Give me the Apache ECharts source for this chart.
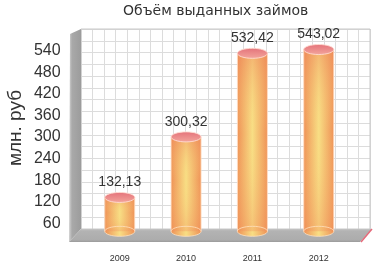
<!DOCTYPE html>
<html><head><meta charset="utf-8">
<script src="https://cdn.jsdelivr.net/npm/echarts@6/dist/echarts.min.js"></script>
<style>html,body{margin:0;padding:0;background:#fff}#c{width:380px;height:273px}</style>
</head><body><div id="c"></div>
<script>
const titleText = 'Объём выданных займов';
const axisName = 'млн. руб';
const categories = ['2009', '2010', '2011', '2012'];
const values = [132.13, 300.32, 532.42, 543.02];
const yTicks = [60, 120, 180, 240, 300, 360, 420, 480, 540];
const BASE = 38; // floor level in axis units

const chart = echarts.init(document.getElementById('c'), null, {renderer: 'canvas'});
const fmt = v => v.toFixed(2).replace('.', ',');

const bodyGrad = new echarts.graphic.LinearGradient(0, 0, 1, 0, [
  {offset: 0, color: '#ef9257'},
  {offset: 0.5, color: '#f8de84'},
  {offset: 1, color: '#ef9257'}
]);
const shadeGrad = new echarts.graphic.LinearGradient(0, 0, 0, 1, [
  {offset: 0, color: 'rgba(238,130,90,0.45)'},
  {offset: 0.45, color: 'rgba(248,220,130,0)'},
  {offset: 1, color: 'rgba(240,140,90,0.35)'}
]);
const topGrad = new echarts.graphic.LinearGradient(0, 0, 0, 1, [
  {offset: 0, color: '#e4727a'},
  {offset: 1, color: '#f3a69c'}
]);

chart.setOption({
  animation: false,
  title: {
    text: titleText, left: 123, top: 4, padding: 0,
    textStyle: {fontFamily: 'DejaVu Sans', fontSize: 14, fontWeight: 'normal', color: '#333'}
  },
  grid: [
    {left: 86.6, right: 28.1, top: 29, bottom: 28},
    {left: 81, right: 10, top: 29, bottom: 44, show: true, backgroundColor: '#fff', borderWidth: 0}
  ],
  xAxis: [
    {type: 'category', gridIndex: 0, data: categories,
     axisLine: {show: false}, axisTick: {show: false},
     axisLabel: {fontFamily: 'Liberation Sans', fontSize: 9, color: '#333', margin: 9}},
    {type: 'value', gridIndex: 1, min: 0, max: 25, interval: 1,
     axisLine: {show: false}, axisTick: {show: false}, axisLabel: {show: false},
     splitLine: {show: true, lineStyle: {color: '#dcdcdc', width: 1}}}
  ],
  yAxis: [
    {type: 'value', gridIndex: 0, min: 0, max: 600, interval: 60,
     axisLine: {show: false}, axisTick: {show: false}, splitLine: {show: false},
     axisLabel: {fontFamily: 'Liberation Sans', fontSize: 16, color: '#333', margin: 26,
       formatter: v => (yTicks.indexOf(v) >= 0 ? String(v) : '')}},
    {type: 'value', gridIndex: 1, min: 0, max: 17, interval: 1,
     axisLine: {show: false}, axisTick: {show: false}, axisLabel: {show: false},
     splitLine: {show: true, lineStyle: {color: '#dcdcdc', width: 1}}}
  ],
  graphic: [
    {type: 'rect', z: 1, shape: {x: 81, y: 29, width: 289, height: 200}, style: {fill: 'none', stroke: '#c8c8c8', lineWidth: 1}},
    {type: 'polygon', z: 1, shape: {points: [[70, 34], [81, 29], [81, 229], [69, 242]]},
     style: {fill: new echarts.graphic.LinearGradient(0, 0, 1, 0, [
       {offset: 0, color: '#d4d4d4'}, {offset: 0.25, color: '#a9a9a9'}, {offset: 1, color: '#9c9c9c'}])}},
    {type: 'polygon', z: 1, shape: {points: [[81, 229], [372, 229], [360, 242], [69, 242]]},
     style: {fill: new echarts.graphic.LinearGradient(0, 0, 0, 1, [
       {offset: 0, color: '#c4c4c4'}, {offset: 0.15, color: '#b3b3b3'}, {offset: 0.85, color: '#acacac'}, {offset: 1, color: '#9a9a9a'}])}},
    {type: 'line', z: 1, shape: {x1: 372, y1: 229, x2: 361, y2: 242}, style: {stroke: '#e56a7a', lineWidth: 1.5}},
    {type: 'text', z: 3, x: 16, y: 128, rotation: Math.PI / 2,
     style: {text: axisName, align: 'center', verticalAlign: 'middle',
       font: '19px "Liberation Sans"', fill: '#333'}}
  ],
  series: [{
    type: 'custom', xAxisIndex: 0, yAxisIndex: 0, z: 5,
    data: values.map((v, i) => [i, v]),
    renderItem: (params, api) => {
      const i = api.value(0), v = api.value(1);
      const top = api.coord([i, v]);
      const bot = api.coord([i, BASE]);
      const w = 30, rx = 15, ry = 5;
      const cx = top[0];
      return {type: 'group', children: [
        {type: 'ellipse', shape: {cx: cx, cy: bot[1], rx: rx, ry: ry}, style: {fill: bodyGrad}},
        {type: 'rect', shape: {x: cx - rx, y: top[1], width: w, height: bot[1] - top[1]}, style: {fill: bodyGrad}},
        {type: 'rect', shape: {x: cx - rx, y: top[1], width: w, height: bot[1] - top[1]}, style: {fill: shadeGrad}},
        {type: 'ellipse', shape: {cx: cx, cy: bot[1], rx: rx, ry: ry}, style: {fill: 'none', stroke: 'rgba(255,225,190,0.8)', lineWidth: 1}},
        {type: 'line', shape: {x1: cx - rx, y1: top[1], x2: cx - rx, y2: bot[1]}, style: {stroke: 'rgba(255,225,200,0.8)', lineWidth: 1}},
        {type: 'line', shape: {x1: cx + rx, y1: top[1], x2: cx + rx, y2: bot[1]}, style: {stroke: 'rgba(255,225,200,0.8)', lineWidth: 1}},
        {type: 'ellipse', shape: {cx: cx, cy: top[1], rx: rx, ry: ry}, style: {fill: topGrad, stroke: 'rgba(255,220,210,0.9)', lineWidth: 1}},
        {type: 'text', style: {text: fmt(v), x: cx, y: top[1] - 8, align: 'center', verticalAlign: 'bottom',
          font: '14px "Liberation Sans"', fill: '#333'}}
      ]};
    }
  }]
});
</script></body></html>
